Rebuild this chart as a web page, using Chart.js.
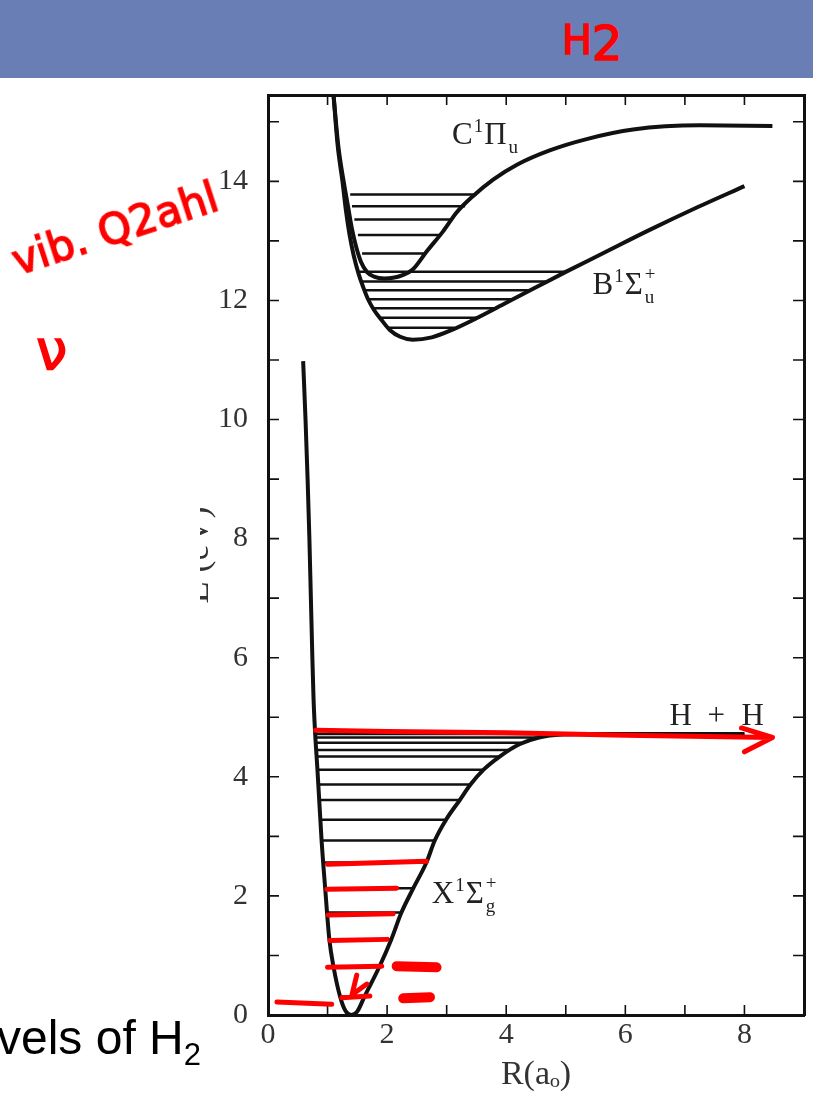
<!DOCTYPE html>
<html>
<head>
<meta charset="utf-8">
<script src="https://cdn.jsdelivr.net/npm/chart.js@4.4.1/dist/chart.umd.min.js"></script>
<style>
html, body { margin: 0; padding: 0; background: #fff; }
body { width: 813px; height: 1095px; position: relative; overflow: hidden; }
#header { position: absolute; left: 0; top: 0; width: 813px; height: 78px; background: #6a7eb6; }
#scan { position: absolute; left: 200px; top: 78px; }
.ink { position: absolute; color: #ff0000; font-family: "DejaVu Sans", sans-serif; line-height: 1;
       -webkit-text-stroke: 1.5px #ff0000; white-space: nowrap; z-index: 5; }
#caption { position: absolute; left: -3px; top: 1014px; font: 48px "Liberation Sans", Arial, sans-serif;
           color: #000; line-height: 1; white-space: nowrap; z-index: 4; }
#caption sub { font-size: 31px; vertical-align: -11px; }
</style>
</head>
<body>
<div id="header"></div>
<canvas id="scan" width="613" height="1017"></canvas>
<div id="caption">vels of H<sub>2</sub></div>
<div class="ink" style="left:562px; top:13px; font-size:40px;">H<span style="position:relative; top:6px; font-size:48px;">2</span></div>
<div class="ink" style="left:20px; top:240px; font-size:42px; transform: rotate(-18deg); transform-origin: 0 100%;">vib. Q2ahl</div>
<div class="ink" style="left:36px; top:322px; font-size:56px;">ν</div>
<script>
// axis ticks (labelled ones)
const rTickLabels = [0, 2, 4, 6, 8];
const eTickLabels = [0, 2, 4, 6, 8, 10, 12, 14];

// ground state X potential curve
const xCurveR = [0.59, 0.63, 0.665, 0.695, 0.72, 0.745, 0.765, 0.79, 0.83, 0.86, 0.90, 0.96, 1.03, 1.10, 1.21, 1.30, 1.40, 1.50, 1.62, 1.87, 2.07, 2.24, 2.44, 2.66, 2.80, 2.99, 3.22, 3.40, 3.62, 3.89, 4.23, 4.55, 4.95, 5.5, 6.5, 8.0];
const xCurveE = [10.98, 10.0, 9.0, 8.0, 7.0, 6.0, 5.3, 4.76, 4.12, 3.61, 2.93, 2.13, 1.27, 0.81, 0.31, 0.07, 0.0, 0.06, 0.31, 0.81, 1.27, 1.72, 2.13, 2.56, 2.93, 3.28, 3.61, 3.87, 4.12, 4.34, 4.55, 4.66, 4.71, 4.72, 4.72, 4.72];

// B state
const bCurveR = [1.10, 1.17, 1.25, 1.31, 1.37, 1.44, 1.52, 1.60, 1.68, 1.78, 1.90, 2.05, 2.22, 2.43, 2.75, 3.10, 3.50, 4.0, 4.5, 5.0, 5.6, 6.4, 7.2, 8.0];
const bCurveE = [15.45, 14.6, 14.0, 13.5, 13.1, 12.75, 12.45, 12.22, 12.02, 11.84, 11.68, 11.5, 11.39, 11.34, 11.38, 11.51, 11.70, 11.96, 12.22, 12.48, 12.78, 13.18, 13.56, 13.92];

// C state
const cCurveR = [1.10, 1.18, 1.27, 1.34, 1.41, 1.48, 1.56, 1.66, 1.78, 1.95, 2.10, 2.25, 2.43, 2.67, 2.94, 3.17, 3.44, 3.78, 4.18, 4.73, 5.35, 6.13, 7.25, 8.47];
const cCurveE = [15.45, 14.6, 14.0, 13.6, 13.2, 12.9, 12.65, 12.48, 12.40, 12.37, 12.38, 12.42, 12.52, 12.83, 13.16, 13.48, 13.75, 14.03, 14.28, 14.52, 14.71, 14.87, 14.94, 14.93];

// vibrational levels: energy, left and right turning points
const xLevelE = [0.31, 0.81, 1.27, 1.72, 2.13, 2.56, 2.93, 3.28, 3.61, 3.87, 4.12, 4.34, 4.45, 4.57, 4.66, 4.72];
const xLevelLeft = [1.21, 1.10, 1.03, 0.99, 0.96, 0.93, 0.90, 0.88, 0.86, 0.85, 0.83, 0.82, 0.81, 0.80, 0.79, 0.79];
const xLevelRight = [1.62, 1.87, 2.07, 2.24, 2.44, 2.64, 2.80, 2.99, 3.22, 3.40, 3.62, 3.89, 4.06, 4.25, 4.50, 8.0];

const bLevelE = [12.48, 12.32, 12.17, 12.02, 11.87, 11.71, 11.54];
const bLevelLeft = [1.52, 1.57, 1.62, 1.68, 1.76, 1.88, 2.02];
const bLevelRight = [5.0, 4.69, 4.40, 4.11, 3.83, 3.52, 3.13];

const cLevelE = [13.78, 13.58, 13.36, 13.10, 12.79];
const cLevelLeft = [1.38, 1.41, 1.45, 1.51, 1.58];
const cLevelRight = [3.50, 3.31, 3.09, 2.88, 2.63];

// state labels
const labelMain = ['C', 'B', 'X'];
const labelSymbol = ['Π', 'Σ', 'Σ'];
const labelSub = ['u', 'u', 'g'];
const labelSup = ['', '+', '+'];
const labelR = [3.09, 5.45, 2.75];
const labelE = [14.62, 12.10, 1.88];

// red pen marks (null = pen lifted)
const inkR = [0.80, 2.0, 4.0, 6.0, 8.47, null, 7.95, 8.47, 8.0, null,
  1.00, 2.66, null, 0.99, 2.16, null, 1.01, 2.10, null, 1.04, 2.00, null,
  1.00, 1.91, null, 1.24, 1.71, null, 1.49, 1.41, 1.66, null, 0.15, 1.07];
const inkE = [4.78, 4.76, 4.74, 4.70, 4.66, null, 4.82, 4.66, 4.42, null,
  2.53, 2.58, null, 2.11, 2.13, null, 1.68, 1.70, null, 1.25, 1.27, null,
  0.80, 0.82, null, 0.29, 0.32, null, 0.67, 0.34, 0.52, null, 0.22, 0.18];
const blobR = [2.16, 2.83, null, 2.27, 2.72];
const blobE = [0.82, 0.80, null, 0.28, 0.30];

function pts(rs, es) {
    return rs.map((r, i) => ({ x: r === null ? rs[i - 1] : r, y: es[i] }));
}

function levelPts(es, lefts, rights) {
    const out = [];
    es.forEach((e, i) => {
        out.push({ x: lefts[i], y: e });
        out.push({ x: rights[i], y: e });
        out.push({ x: rights[i], y: null });
    });
    return out;
}

const inwardTicks = {
    id: 'inwardTicks',
    beforeDatasetsDraw(chart) {
        const { ctx, chartArea: a, scales } = chart;
        ctx.save();
        ctx.strokeStyle = '#111';
        ctx.lineWidth = 1.6;
        ctx.beginPath();
        scales.x.ticks.forEach(t => {
            const px = scales.x.getPixelForValue(t.value);
            if (px <= a.left + 2 || px >= a.right - 2) return;
            ctx.moveTo(px, a.bottom); ctx.lineTo(px, a.bottom - 10);
            ctx.moveTo(px, a.top); ctx.lineTo(px, a.top + 10);
        });
        scales.y.ticks.forEach(t => {
            const py = scales.y.getPixelForValue(t.value);
            if (py <= a.top + 2 || py >= a.bottom - 2) return;
            ctx.moveTo(a.left, py); ctx.lineTo(a.left + 11, py);
            ctx.moveTo(a.right, py); ctx.lineTo(a.right - 11, py);
        });
        ctx.stroke();
        ctx.restore();
    }
};

const stateLabels = {
    id: 'stateLabels',
    afterDatasetsDraw(chart) {
        const { ctx, scales: { x, y } } = chart;
        const big = '31px "Liberation Serif"';
        const small = '19px "Liberation Serif"';
        ctx.save();
        ctx.fillStyle = '#222';
        ctx.textBaseline = 'alphabetic';
        ctx.textAlign = 'left';
        labelMain.forEach((m, i) => {
            let px = x.getPixelForValue(labelR[i]);
            const py = y.getPixelForValue(labelE[i]);
            ctx.font = big; ctx.fillText(m, px, py); px += ctx.measureText(m).width + 1;
            ctx.font = small; ctx.fillText('1', px, py - 12); px += ctx.measureText('1').width + 1;
            ctx.font = big; ctx.fillText(labelSymbol[i], px, py); px += ctx.measureText(labelSymbol[i]).width + 2;
            ctx.font = small;
            ctx.fillText(labelSub[i], px, py + 9);
            if (labelSup[i]) ctx.fillText(labelSup[i], px, py - 14);
        });
        // dissociation limit
        const hx = x.getPixelForValue(6.74), hy = y.getPixelForValue(4.87);
        ctx.font = big;
        ctx.fillText('H', hx, hy);
        ctx.fillText('+', hx + 38, hy);
        ctx.fillText('H', hx + 72, hy);
        ctx.restore();
    }
};

const black = '#111';
const curveStyle = { borderColor: black, borderWidth: 4, pointRadius: 0, cubicInterpolationMode: 'monotone', fill: false };
const levelStyle = { borderColor: black, borderWidth: 2.5, pointRadius: 0, tension: 0, spanGaps: false, fill: false };

new Chart(document.getElementById('scan'), {
    type: 'line',
    data: {
        datasets: [
            { data: pts(blobR, blobE), borderColor: '#ff0000', borderWidth: 10, pointRadius: 0, tension: 0, spanGaps: false, borderCapStyle: 'round', order: 0 },
            { data: pts(inkR, inkE), borderColor: '#ff0000', borderWidth: 5, pointRadius: 0, tension: 0, spanGaps: false, borderCapStyle: 'round', borderJoinStyle: 'round', order: 1 },
            Object.assign({ data: pts(xCurveR, xCurveE), order: 2 }, curveStyle),
            Object.assign({ data: pts(bCurveR, bCurveE), order: 3 }, curveStyle),
            Object.assign({ data: pts(cCurveR, cCurveE), order: 4 }, curveStyle),
            Object.assign({ data: levelPts(xLevelE, xLevelLeft, xLevelRight), order: 5 }, levelStyle),
            Object.assign({ data: levelPts(bLevelE, bLevelLeft, bLevelRight), order: 6 }, levelStyle),
            Object.assign({ data: levelPts(cLevelE, cLevelLeft, cLevelRight), order: 7 }, levelStyle)
        ]
    },
    options: {
        responsive: false,
        animation: false,
        devicePixelRatio: 1,
        events: [],
        layout: { padding: 0 },
        plugins: { legend: { display: false }, tooltip: { enabled: false } },
        scales: {
            x: {
                type: 'linear', position: 'bottom', min: 0, max: 9,
                grid: { display: false },
                border: { display: true, color: black, width: 3 },
                ticks: {
                    stepSize: 1, autoSkip: false, maxRotation: 0, padding: -6,
                    color: '#333', font: { family: 'Liberation Serif', size: 30 },
                    callback: v => rTickLabels.includes(v) ? String(v) : ''
                },
                title: { display: true, text: 'R(aₒ)', color: '#333', font: { family: 'Liberation Serif', size: 34 }, padding: { top: 0, bottom: 0 } },
                afterFit: s => { s.height = 80; s.paddingLeft = 0; s.paddingRight = 0; }
            },
            y: {
                type: 'linear', position: 'left', min: 0, max: 15.45,
                grid: { display: false },
                border: { display: true, color: black, width: 3 },
                ticks: {
                    stepSize: 1, autoSkip: false, includeBounds: false, padding: 12,
                    color: '#333', font: { family: 'Liberation Serif', size: 30 },
                    callback: v => eTickLabels.includes(v) ? String(v) : ''
                },
                title: { display: true, text: 'E (eV)', color: '#333', font: { family: 'Liberation Serif', size: 36 }, padding: { top: -23, bottom: 0 } },
                afterFit: s => { s.width = 68; s.paddingTop = 0; s.paddingBottom = 0; }
            },
            x2: {
                type: 'linear', position: 'top', min: 0, max: 9,
                grid: { display: false },
                border: { display: true, color: black, width: 3 },
                ticks: { display: false },
                afterFit: s => { s.height = 17; s.paddingLeft = 0; s.paddingRight = 0; }
            },
            y2: {
                type: 'linear', position: 'right', min: 0, max: 15.45,
                grid: { display: false },
                border: { display: true, color: black, width: 3 },
                ticks: { display: false },
                afterFit: s => { s.width = 9; s.paddingTop = 0; s.paddingBottom = 0; }
            }
        }
    },
    plugins: [inwardTicks, stateLabels]
});
</script>
</body>
</html>
